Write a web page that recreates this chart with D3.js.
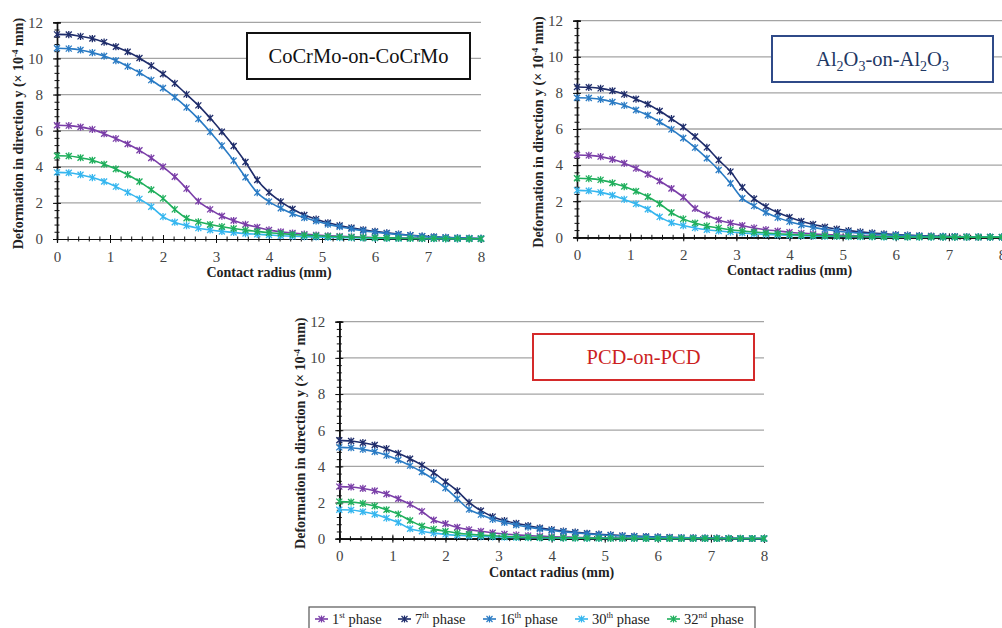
<!DOCTYPE html>
<html>
<head>
<meta charset="utf-8">
<script src="https://cdn.jsdelivr.net/npm/d3@7"></script>
<style>
  body { margin: 0; background: #fff; }
  svg { display: block; }
  svg text { font-family: 'Liberation Serif', 'Times New Roman', serif; }
</style>
</head>
<body>
<div id="chart"></div>
<script>
/* DATA */
// contact radius (mm), same grid for every series
const radius = [0, 0.222, 0.444, 0.667, 0.889, 1.111, 1.333, 1.556, 1.778, 2, 2.222, 2.444, 2.667, 2.889,
  3.111, 3.333, 3.556, 3.778, 4, 4.222, 4.444, 4.667, 4.889, 5.111, 5.333, 5.556, 5.778, 6, 6.222, 6.444,
  6.667, 6.889, 7.111, 7.333, 7.556, 7.778, 8];

const phases = ["1st", "7th", "16th", "30th", "32nd"];
const xTicks = [0, 1, 2, 3, 4, 5, 6, 7, 8];
const yTicks = [0, 2, 4, 6, 8, 10, 12];

// CoCrMo-on-CoCrMo
const cocr1 = [6.3, 6.28, 6.2, 6.07, 5.83, 5.56, 5.26, 4.91, 4.49, 4.0, 3.45, 2.79, 2.09, 1.64, 1.27, 1.02, 0.81, 0.65, 0.5, 0.4, 0.33, 0.27, 0.22, 0.18, 0.15, 0.12, 0.1, 0.08, 0.07, 0.06, 0.05, 0.04, 0.03, 0.03, 0.02, 0.02, 0.01];
const cocr7 = [11.33, 11.32, 11.22, 11.1, 10.9, 10.65, 10.37, 10.02, 9.6, 9.14, 8.62, 8.01, 7.4, 6.7, 5.94, 5.15, 4.26, 3.27, 2.58, 2.07, 1.66, 1.33, 1.1, 0.9, 0.75, 0.62, 0.51, 0.42, 0.34, 0.27, 0.21, 0.16, 0.12, 0.09, 0.06, 0.04, 0.03];
const cocr16 = [10.56, 10.54, 10.47, 10.32, 10.13, 9.88, 9.56, 9.21, 8.8, 8.36, 7.85, 7.29, 6.65, 5.93, 5.17, 4.34, 3.42, 2.57, 2.07, 1.7, 1.4, 1.18, 1.0, 0.81, 0.68, 0.56, 0.46, 0.38, 0.31, 0.25, 0.2, 0.15, 0.11, 0.08, 0.06, 0.04, 0.03];
const cocr30 = [3.69, 3.67, 3.56, 3.4, 3.18, 2.9, 2.58, 2.22, 1.79, 1.24, 0.93, 0.74, 0.6, 0.5, 0.42, 0.36, 0.3, 0.26, 0.22, 0.18, 0.15, 0.13, 0.11, 0.09, 0.08, 0.07, 0.06, 0.05, 0.04, 0.03, 0.03, 0.02, 0.02, 0.01, 0.01, 0.01, 0.01];
const cocr32 = [4.61, 4.6, 4.5, 4.36, 4.14, 3.88, 3.56, 3.18, 2.73, 2.25, 1.64, 1.15, 0.95, 0.8, 0.68, 0.58, 0.49, 0.42, 0.35, 0.3, 0.25, 0.21, 0.18, 0.15, 0.12, 0.1, 0.08, 0.07, 0.06, 0.05, 0.04, 0.03, 0.03, 0.02, 0.02, 0.01, 0.01];

// Al2O3-on-Al2O3
const alu1 = [4.56, 4.54, 4.47, 4.32, 4.1, 3.82, 3.49, 3.12, 2.7, 2.22, 1.6, 1.24, 0.96, 0.79, 0.65, 0.52, 0.42, 0.35, 0.28, 0.23, 0.19, 0.15, 0.12, 0.1, 0.08, 0.07, 0.06, 0.05, 0.04, 0.03, 0.03, 0.02, 0.02, 0.01, 0.01, 0.01, 0.01];
const alu7 = [8.33, 8.31, 8.25, 8.12, 7.92, 7.66, 7.37, 7.0, 6.57, 6.11, 5.58, 4.98, 4.28, 3.64, 2.77, 2.14, 1.7, 1.37, 1.11, 0.89, 0.72, 0.57, 0.46, 0.37, 0.3, 0.24, 0.19, 0.15, 0.12, 0.09, 0.07, 0.05, 0.04, 0.03, 0.02, 0.02, 0.01];
const alu16 = [7.73, 7.72, 7.64, 7.5, 7.31, 7.05, 6.76, 6.39, 5.98, 5.5, 4.97, 4.38, 3.73, 2.99, 2.16, 1.74, 1.37, 1.09, 0.87, 0.68, 0.55, 0.44, 0.35, 0.28, 0.23, 0.18, 0.14, 0.11, 0.09, 0.07, 0.05, 0.04, 0.03, 0.02, 0.02, 0.01, 0.01];
const alu30 = [2.6, 2.58, 2.49, 2.33, 2.1, 1.85, 1.55, 1.13, 0.81, 0.65, 0.52, 0.42, 0.35, 0.29, 0.24, 0.2, 0.16, 0.13, 0.11, 0.09, 0.07, 0.06, 0.05, 0.04, 0.03, 0.03, 0.02, 0.02, 0.02, 0.01, 0.01, 0.01, 0.01, 0.01, 0.01, 0.01, 0.01];
const alu32 = [3.27, 3.25, 3.18, 3.01, 2.81, 2.55, 2.25, 1.86, 1.37, 1.02, 0.79, 0.63, 0.52, 0.42, 0.35, 0.29, 0.24, 0.2, 0.16, 0.13, 0.11, 0.09, 0.07, 0.06, 0.05, 0.04, 0.03, 0.03, 0.02, 0.02, 0.02, 0.01, 0.01, 0.01, 0.01, 0.01, 0.01];

// PCD-on-PCD
const pcd1 = [2.88, 2.86, 2.78, 2.65, 2.47, 2.21, 1.9, 1.51, 1.03, 0.83, 0.63, 0.5, 0.41, 0.33, 0.26, 0.21, 0.17, 0.14, 0.11, 0.09, 0.08, 0.06, 0.05, 0.04, 0.04, 0.03, 0.03, 0.02, 0.02, 0.02, 0.01, 0.01, 0.01, 0.01, 0.01, 0.01, 0.01];
const pcd7 = [5.44, 5.4, 5.31, 5.18, 4.98, 4.72, 4.42, 4.07, 3.65, 3.15, 2.64, 2.01, 1.55, 1.22, 1.0, 0.85, 0.72, 0.6, 0.5, 0.42, 0.36, 0.3, 0.25, 0.21, 0.17, 0.14, 0.12, 0.1, 0.08, 0.06, 0.05, 0.04, 0.03, 0.02, 0.02, 0.01, 0.01];
const pcd16 = [5.05, 5.03, 4.94, 4.81, 4.61, 4.35, 4.04, 3.69, 3.28, 2.8, 2.21, 1.62, 1.33, 1.07, 0.9, 0.76, 0.64, 0.54, 0.45, 0.38, 0.32, 0.27, 0.22, 0.18, 0.15, 0.12, 0.1, 0.08, 0.06, 0.05, 0.04, 0.03, 0.02, 0.02, 0.01, 0.01, 0.01];
const pcd30 = [1.6, 1.59, 1.49, 1.35, 1.14, 0.9, 0.55, 0.41, 0.31, 0.24, 0.19, 0.15, 0.12, 0.1, 0.08, 0.07, 0.06, 0.05, 0.04, 0.03, 0.03, 0.02, 0.02, 0.02, 0.01, 0.01, 0.01, 0.01, 0.01, 0.01, 0.01, 0.01, 0.01, 0.01, 0.01, 0.01, 0.01];
const pcd32 = [2.05, 2.03, 1.95, 1.81, 1.6, 1.36, 1.01, 0.7, 0.53, 0.41, 0.31, 0.25, 0.2, 0.16, 0.13, 0.1, 0.08, 0.07, 0.06, 0.05, 0.04, 0.03, 0.03, 0.02, 0.02, 0.02, 0.01, 0.01, 0.01, 0.01, 0.01, 0.01, 0.01, 0.01, 0.01, 0.01, 0.01];

/* CONSTANTS */
const width = 1002, height = 628;
const colors = ["#7a3ea8", "#1f2d6b", "#2a7bc4", "#35b6ef", "#1faf5c"];

// layout of the three panels (plot area in px) and their label boxes
const panels = [
  { series: [cocr1, cocr7, cocr16, cocr30, cocr32], left: 57, right: 481, top: 22.3, bottom: 239,
    box: { x: 247, y: 33, w: 223, h: 46, stroke: "#111", fill: "#111" },
    title: [["CoCrMo-on-CoCrMo", false]] },
  { series: [alu1, alu7, alu16, alu30, alu32], left: 577, right: 1002, top: 20.7, bottom: 237.3,
    box: { x: 772, y: 36, w: 221, h: 46, stroke: "#2f4a88", fill: "#1f3864" },
    title: [["Al", false], ["2", true], ["O", false], ["3", true], ["-on-Al", false], ["2", true], ["O", false], ["3", true]] },
  { series: [pcd1, pcd7, pcd16, pcd30, pcd32], left: 339.3, right: 764, top: 321.7, bottom: 538.7,
    box: { x: 533, y: 334, w: 221, h: 46, stroke: "#d42a2a", fill: "#cc1f1f" },
    title: [["PCD-on-PCD", false]] }
];

const star = "M-3,-3L3,3M-3,3L3,-3M0,-3.6L0,3.6";

const svg = d3.select("#chart").append("svg")
  .attr("width", width)
  .attr("height", height);

panels.forEach(drawPanel);
drawLegend();

function drawPanel(p) {
  const g = svg.append("g");
  const x = d3.scaleLinear().domain([0, 8]).range([p.left, p.right]);
  const y = d3.scaleLinear().domain([0, 12]).range([p.bottom, p.top]);

  // horizontal grid lines
  g.selectAll(".grid")
    .data(yTicks.slice(1))
    .join("line")
    .attr("x1", p.left).attr("x2", p.right)
    .attr("y1", d => y(d)).attr("y2", d => y(d))
    .attr("stroke", "#a4a4a4")
    .attr("stroke-width", 1.3);

  // label box
  g.append("rect")
    .attr("x", p.box.x).attr("y", p.box.y)
    .attr("width", p.box.w).attr("height", p.box.h)
    .attr("fill", "#fff")
    .attr("stroke", p.box.stroke)
    .attr("stroke-width", 2);

  const t = g.append("text")
    .attr("x", p.box.x + p.box.w / 2)
    .attr("y", p.box.y + p.box.h / 2 + 7)
    .attr("text-anchor", "middle")
    .attr("font-size", 20.5)
    .attr("fill", p.box.fill);
  p.title.forEach(([s, sub], i) => {
    const prevSub = i > 0 && p.title[i - 1][1];
    const ts = t.append("tspan").text(s)
      .attr("dy", sub && !prevSub ? 5 : (!sub && prevSub ? -5 : 0));
    if (sub) ts.attr("font-size", 14);
  });

  // axes with crossing ticks
  const yMinor = d3.range(0, 12.01, 0.4);
  const xMinor = d3.range(0, 8.01, 0.2);

  const yAx = g.append("g").attr("transform", `translate(${p.left},0)`);
  yAx.call(d3.axisLeft(y).tickValues(yMinor).tickSize(2.5).tickFormat(""));
  yAx.append("g").call(d3.axisRight(y).tickValues(yMinor).tickSize(2.5).tickFormat(""));
  yAx.append("g").call(d3.axisRight(y).tickValues(yTicks).tickSize(4).tickFormat(""));
  yAx.append("g").call(d3.axisLeft(y).tickValues(yTicks).tickSize(4).tickPadding(10).tickFormat(d3.format("d")));

  const xAx = g.append("g").attr("transform", `translate(0,${p.bottom})`);
  xAx.call(d3.axisBottom(x).tickValues(xMinor).tickSize(2.5).tickFormat(""));
  xAx.append("g").call(d3.axisTop(x).tickValues(xMinor).tickSize(2.5).tickFormat(""));
  xAx.append("g").call(d3.axisTop(x).tickValues(xTicks).tickSize(4).tickFormat(""));
  xAx.append("g").call(d3.axisBottom(x).tickValues(xTicks).tickSize(4).tickPadding(8).tickFormat(d3.format("d")));

  g.selectAll(".domain").attr("stroke", "#111").attr("stroke-width", 1.2);
  g.selectAll(".tick line").attr("stroke", "#111");
  g.selectAll(".tick text")
    .style("font-family", "'Liberation Serif', 'Times New Roman', serif")
    .style("font-size", "15px")
    .attr("fill", "#444");

  // axis titles
  g.append("text")
    .attr("x", (p.left + p.right) / 2)
    .attr("y", p.bottom + 38)
    .attr("text-anchor", "middle")
    .attr("font-size", 14)
    .attr("font-weight", "bold")
    .attr("fill", "#222")
    .text("Contact radius (mm)");

  const yl = g.append("text")
    .attr("transform", `translate(${p.left - 34},${(p.top + p.bottom) / 2 + 3}) rotate(-90)`)
    .attr("text-anchor", "middle")
    .attr("font-size", 14)
    .attr("font-weight", "bold")
    .attr("fill", "#222");
  yl.append("tspan").text("Deformation in direction y (× 10");
  yl.append("tspan").attr("font-size", 9).attr("dy", -5).text("-4");
  yl.append("tspan").attr("dy", 5).text(" mm)");

  // series lines + star markers
  const line = d3.line()
    .x((d, i) => x(radius[i]))
    .y(d => y(d))
    .curve(d3.curveMonotoneX);

  p.series.forEach((vals, k) => {
    const sg = g.append("g");
    sg.append("path")
      .datum(vals)
      .attr("d", line)
      .attr("fill", "none")
      .attr("stroke", colors[k])
      .attr("stroke-width", 1.6);
    sg.selectAll("path.mk")
      .data(vals)
      .join("path")
      .attr("class", "mk")
      .attr("transform", (d, i) => `translate(${x(radius[i])},${y(d)})`)
      .attr("d", star)
      .attr("stroke", colors[k])
      .attr("stroke-width", 1.3);
  });
}

function drawLegend() {
  const lg = svg.append("g");
  lg.append("rect")
    .attr("x", 309).attr("y", 607)
    .attr("width", 446).attr("height", 26)
    .attr("fill", "#fff")
    .attr("stroke", "#555")
    .attr("stroke-width", 1.2);

  const sups = ["st", "th", "th", "th", "nd"];
  const nums = ["1", "7", "16", "30", "32"];
  const itemX = d3.scaleOrdinal().domain(phases).range([315, 398, 483, 575, 667]);

  phases.forEach((ph, k) => {
    const x0 = itemX(ph);
    const it = lg.append("g").attr("transform", `translate(${x0},619)`);
    it.append("line").attr("x1", 0).attr("x2", 13)
      .attr("stroke", colors[k]).attr("stroke-width", 1.6);
    it.append("path").attr("d", star).attr("transform", "translate(6.5,0)")
      .attr("stroke", colors[k]).attr("stroke-width", 1.2);
    const t = it.append("text")
      .attr("x", 17).attr("y", 5)
      .attr("font-size", 14.5)
      .attr("fill", "#222");
    t.append("tspan").text(nums[k]);
    t.append("tspan").attr("font-size", 8.5).attr("dy", -6).text(sups[k]);
    t.append("tspan").attr("dy", 6).text(" phase");
  });
}
</script>
</body>
</html>
